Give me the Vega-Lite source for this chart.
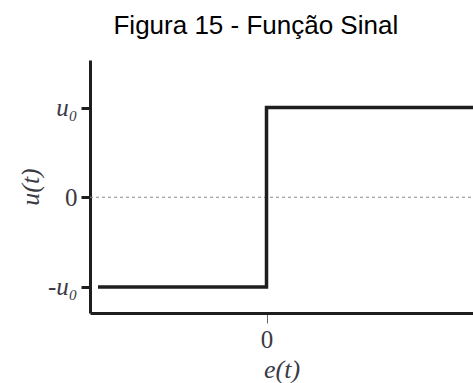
{
  "$schema": "https://vega.github.io/schema/vega-lite/v6.json",
  "autosize": "none",
  "width": 383,
  "height": 253,
  "padding": {"left": 90, "top": 60, "right": 0, "bottom": 70},
  "title": {
    "text": "Figura 15 - Função Sinal",
    "font": "Liberation Sans",
    "fontSize": 26,
    "fontWeight": "normal",
    "color": "#000000",
    "anchor": "start",
    "dx": 96,
    "dy": 27,
    "baseline": "alphabetic",
    "offset": 27
  },
  "config": {
    "view": {"stroke": null},
    "axis": {"grid": false}
  },
  "datasets": {
    "sinal": [
      {"e": -1.0, "u": -1},
      {"e": 0.0, "u": 1},
      {"e": 1.3, "u": 1}
    ],
    "zero": [
      {"e0": -1.0475, "e1": 1.2255, "u": 0}
    ]
  },
  "layer": [
    {
      "data": {"name": "zero"},
      "mark": {"type": "rule", "color": "#8a8a8a", "strokeWidth": 1, "strokeDash": [3, 3]},
      "encoding": {
        "x": {"field": "e0", "type": "quantitative", "scale": {"domain": [-1.0475, 1.2255], "nice": false, "zero": false}},
        "x2": {"field": "e1"},
        "y": {"field": "u", "type": "quantitative", "scale": {"domain": [-1.291, 1.531], "nice": false, "zero": false}}
      }
    },
    {
      "data": {"name": "sinal"},
      "mark": {"type": "line", "interpolate": "step-after", "color": "#1e1e1e", "strokeWidth": 3.5, "clip": true},
      "encoding": {
        "x": {
          "field": "e",
          "type": "quantitative",
          "scale": {"domain": [-1.0475, 1.2255], "nice": false, "zero": false},
          "axis": {
            "values": [0],
            "labelExpr": "'0'",
            "title": "e(t)",
            "titleFont": "Liberation Serif",
            "titleFontStyle": "italic",
            "titleFontWeight": "normal",
            "titleFontSize": 26,
            "titleColor": "#3a3a44",
            "titlePadding": 4,
            "labelFont": "Liberation Serif",
            "labelFontSize": 25,
            "labelColor": "#3a3a44",
            "labelPadding": 4,
            "domainColor": "#1e1e1e",
            "domainWidth": 3,
            "tickColor": "#666666",
            "tickWidth": 1,
            "tickSize": 10
          }
        },
        "y": {
          "field": "u",
          "type": "quantitative",
          "scale": {"domain": [-1.291, 1.531], "nice": false, "zero": false},
          "axis": {
            "values": [-1, 0, 1],
            "labelExpr": "datum.value == 1 ? 'u₀' : datum.value == -1 ? '-u₀' : '0'",
            "title": "u(t)",
            "titleFont": "Liberation Serif",
            "titleFontStyle": "italic",
            "titleFontWeight": "normal",
            "titleFontSize": 26,
            "titleColor": "#3a3a44",
            "titlePadding": 4,
            "labelFont": "Liberation Serif",
            "labelFontStyle": {"condition": {"test": "datum.value == 0", "value": "normal"}, "value": "italic"},
            "labelFontSize": 25,
            "labelColor": "#3a3a44",
            "labelPadding": 4,
            "domainColor": "#1e1e1e",
            "domainWidth": 3,
            "tickColor": "#1e1e1e",
            "tickWidth": 3,
            "tickSize": 9
          }
        }
      }
    }
  ]
}
